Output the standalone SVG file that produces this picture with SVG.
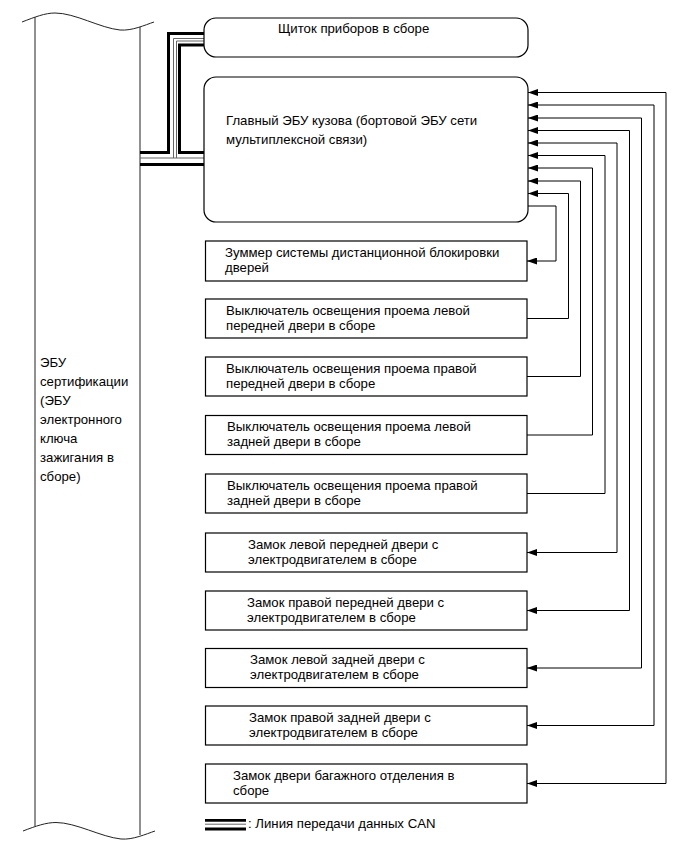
<svg xmlns="http://www.w3.org/2000/svg" width="691" height="855" viewBox="0 0 691 855">
<style>
  text { font-family: "Liberation Sans", Arial, sans-serif; font-size: 13.2px; fill: #000; }
  .box { fill: #fff; stroke: #000; stroke-width: 1.2; }
  .col { fill: none; stroke: #222; stroke-width: 1; }
  .wire { fill: none; stroke: #000; stroke-width: 1; }
  .can { fill: none; stroke: #000; stroke-width: 3; }
  .canthin { fill: none; stroke: #666; stroke-width: 1; }
</style>
<defs>
  <marker id="arr" viewBox="0 0 10 7" refX="10" refY="3.5" markerWidth="10" markerHeight="7" markerUnits="userSpaceOnUse" orient="auto-start-reverse">
    <path d="M0,0 L10,3.5 L0,7 z" fill="#000"/>
  </marker>
</defs>

<g id="cert-ecu">
  <path class="col" d="M35,17 V826"/>
  <path class="col" d="M140,27 V835"/>
  <path class="col" d="M22,22 C35,17 45,13 55,13 C75,13 100,28 120,30 C132,31 145,25 154,22"/>
  <path class="col" d="M23,831 C36,826 46,822.5 56,822.5 C76,822.5 101,837 121,839 C133,840 146,834 155,831"/>
  <text x="40" y="366.5">ЭБУ</text>
  <text x="40" y="385.5">сертификации</text>
  <text x="40" y="404.5">(ЭБУ</text>
  <text x="40" y="423.5">электронного</text>
  <text x="40" y="442.5">ключа</text>
  <text x="40" y="461.5">зажигания в</text>
  <text x="40" y="480.5">сборе)</text>
</g>

<g id="can-lines">
  <path class="can" d="M140,152.5 H168.5 V33.5 H204"/>
  <path class="can" d="M204,45 H179.5 V152.5 H204"/>
  <path class="canthin" d="M140,158 H204"/>
  <path class="canthin" d="M173.5,158 V38.5 H204"/>
  <path class="canthin" d="M176.5,158 V41 H204"/>
  <path class="can" d="M140,164.5 H204"/>
</g>

<g id="combination-meter">
  <rect class="box" x="204" y="18" width="324" height="39" rx="12"/>
  <text x="278" y="33">Щиток приборов в сборе</text>
</g>

<g id="main-body-ecu">
  <rect class="box" x="204" y="77" width="324" height="145" rx="12"/>
  <text x="226" y="124.5">Главный ЭБУ кузова (бортовой ЭБУ сети</text>
  <text x="226" y="143.5">мультиплексной связи)</text>
</g>

<g id="buzzer">
  <rect class="box" x="205.5" y="241" width="321.5" height="40"/>
  <text x="225" y="256.5">Зуммер системы дистанционной блокировки</text>
  <text x="225" y="271.5">дверей</text>
</g>
<g id="sw-fl">
  <rect class="box" x="205.5" y="299" width="321.5" height="39"/>
  <text x="226" y="314.5">Выключатель освещения проема левой</text>
  <text x="226" y="329.5">передней двери в сборе</text>
</g>
<g id="sw-fr">
  <rect class="box" x="205.5" y="357" width="321.5" height="39"/>
  <text x="226" y="372.5">Выключатель освещения проема правой</text>
  <text x="226" y="387.5">передней двери в сборе</text>
</g>
<g id="sw-rl">
  <rect class="box" x="205.5" y="415.5" width="321.5" height="39"/>
  <text x="227" y="431">Выключатель освещения проема левой</text>
  <text x="227" y="446">задней двери в сборе</text>
</g>
<g id="sw-rr">
  <rect class="box" x="205.5" y="474" width="321.5" height="39"/>
  <text x="227" y="489.5">Выключатель освещения проема правой</text>
  <text x="227" y="504.5">задней двери в сборе</text>
</g>
<g id="lock-fl">
  <rect class="box" x="205.5" y="533" width="321.5" height="39"/>
  <text x="248" y="548.5">Замок левой передней двери с</text>
  <text x="248" y="563.5">электродвигателем в сборе</text>
</g>
<g id="lock-fr">
  <rect class="box" x="205.5" y="591" width="321.5" height="39"/>
  <text x="247" y="606.5">Замок правой передней двери с</text>
  <text x="247" y="621.5">электродвигателем в сборе</text>
</g>
<g id="lock-rl">
  <rect class="box" x="205.5" y="648.5" width="321.5" height="39"/>
  <text x="250" y="664">Замок левой задней двери с</text>
  <text x="250" y="679">электродвигателем в сборе</text>
</g>
<g id="lock-rr">
  <rect class="box" x="205.5" y="706" width="321.5" height="39"/>
  <text x="249" y="721.5">Замок правой задней двери с</text>
  <text x="249" y="736.5">электродвигателем в сборе</text>
</g>
<g id="lock-trunk">
  <rect class="box" x="205.5" y="764" width="321.5" height="39"/>
  <text x="233" y="780">Замок двери багажного отделения в</text>
  <text x="233" y="795">сборе</text>
</g>

<g id="connectors">
  <path class="wire" d="M528,206 H556 V261 H527" marker-end="url(#arr)"/>
  <path class="wire" d="M527,318.5 H568.5 V193.5 H528" marker-end="url(#arr)"/>
  <path class="wire" d="M527,376.5 H580.5 V181 H528" marker-end="url(#arr)"/>
  <path class="wire" d="M527,435 H592.5 V168 H528" marker-end="url(#arr)"/>
  <path class="wire" d="M527,493.5 H605 V155.5 H528" marker-end="url(#arr)"/>
  <path class="wire" d="M527,552.5 H617 V143 H528" marker-start="url(#arr)" marker-end="url(#arr)"/>
  <path class="wire" d="M527,610.5 H629.5 V130.5 H528" marker-start="url(#arr)" marker-end="url(#arr)"/>
  <path class="wire" d="M527,668 H641.5 V118 H528" marker-start="url(#arr)" marker-end="url(#arr)"/>
  <path class="wire" d="M527,725.5 H654 V105 H528" marker-start="url(#arr)" marker-end="url(#arr)"/>
  <path class="wire" d="M527,783.5 H666 V92.5 H528" marker-start="url(#arr)" marker-end="url(#arr)"/>
</g>

<g id="legend">
  <path d="M205,820.3 H246" stroke="#000" stroke-width="2.7"/>
  <path d="M205,824.2 H246" stroke="#666" stroke-width="1"/>
  <path d="M205,829 H246" stroke="#000" stroke-width="3"/>
  <text x="248" y="828">: Линия передачи данных CAN</text>
</g>
</svg>
